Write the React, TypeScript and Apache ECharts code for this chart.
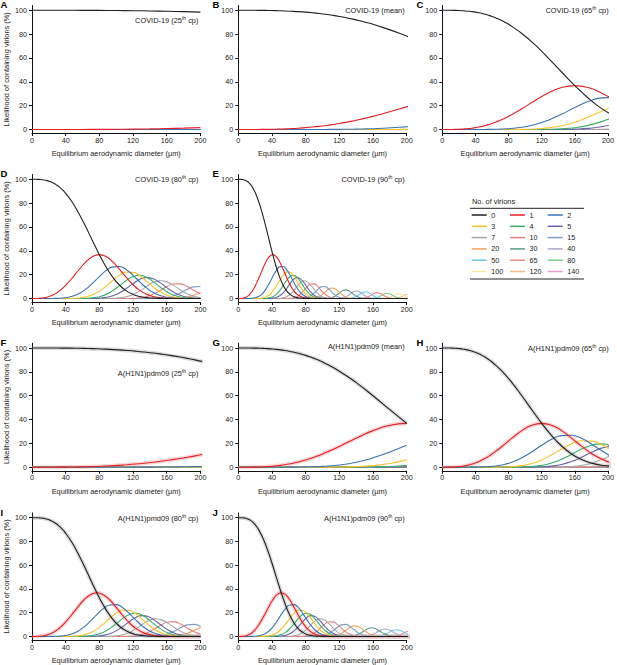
import React, { useEffect, useRef } from "react";
import * as echarts from "echarts";

const FONT = '"Liberation Sans", Arial, Helvetica, sans-serif';

// Number of virions per droplet (legend order)
const VIRIONS = [0, 1, 2, 3, 4, 5, 7, 10, 15, 20, 30, 40, 50, 65, 80, 100, 120, 140];
const COLORS = [
  "#231f20", "#e41f25", "#3b73b3", "#f7c12c", "#3aaf68", "#6764a6",
  "#a7a7a7", "#e2817d", "#7d9ec9", "#f5a263", "#5e9a8c", "#b2a8c8",
  "#6ac7ef", "#f08a8a", "#7ccf8d", "#fce59d", "#efbb8a", "#e89fd6",
];

// Likelihood (%) of each virion count, read along a shared sampling of the curves.
// Each list starts at sample index `from`; samples outside it read as 0.
const L0 = { from: 0, v: [100, 100, 99.99, 99.96, 99.9, 99.8, 99.66, 99.47, 99.2, 98.87, 98.45, 97.94, 97.34, 96.63, 95.8, 94.86, 93.8, 92.61, 91.29, 89.84, 88.25, 80.57, 70.96, 59.93, 48.24, 36.79, 26.42, 17.76, 11.11, 6.43, 3.42, 1.66, 0.73, 0.29, 0.1, 0.03] };
const L1 = { from: 0, v: [0, 0, 0.01, 0.04, 0.1, 0.19, 0.34, 0.53, 0.79, 1.13, 1.54, 2.04, 2.63, 3.32, 4.11, 5, 6, 7.11, 8.32, 9.63, 11.03, 17.4, 24.34, 30.68, 35.17, 36.79, 35.17, 30.69, 24.41, 17.64, 11.54, 6.82, 3.61, 1.71, 0.72, 0.27, 0.09, 0.03] };
const L2 = { from: 9, v: [0.01, 0.01, 0.02, 0.04, 0.06, 0.09, 0.13, 0.19, 0.27, 0.38, 0.52, 0.69, 1.88, 4.17, 7.85, 12.82, 18.39, 23.41, 26.52, 26.81, 24.2, 19.47, 13.97, 8.87, 4.99, 2.47, 1.07, 0.41, 0.13, 0.04] };
const L3 = { from: 18, v: [0.01, 0.02, 0.03, 0.14, 0.48, 1.34, 3.12, 6.13, 10.39, 15.28, 19.63, 22.14, 21.9, 19.07, 14.53, 9.7, 5.65, 2.86, 1.26, 0.48, 0.16, 0.04, 0.01] };
const L4 = { from: 21, v: [0.01, 0.04, 0.17, 0.57, 1.53, 3.46, 6.6, 10.78, 15.19, 18.48, 19.53, 17.85, 14.14, 9.69, 5.72, 2.91, 1.28, 0.48, 0.15, 0.04, 0.01] };
const L5 = { from: 23, v: [0.02, 0.08, 0.31, 0.92, 2.28, 4.74, 8.34, 12.47, 16, 17.54, 16.49, 13.29, 9.16, 5.39, 2.73, 1.16, 0.42, 0.13, 0.03, 0.01] };
const L7 = { from: 25, v: [0.01, 0.04, 0.16, 0.54, 1.49, 3.38, 6.39, 10.08, 13.35, 14.89, 13.96, 11, 7.37, 4.07, 1.9, 0.74, 0.24, 0.06, 0.01] };
const L10 = { from: 29, v: [0.04, 0.18, 0.61, 1.66, 3.68, 6.67, 9.93, 12.16, 12.27, 10.19, 6.97, 3.92, 1.8, 0.68, 0.21, 0.05, 0.01] };
const L15 = { from: 33, v: [0.07, 0.28, 0.9, 2.3, 4.66, 7.54, 9.76, 10.12, 8.4, 5.59, 2.97, 1.26, 0.43, 0.11, 0.02] };
const L20 = { from: 36, v: [0.08, 0.34, 1.08, 2.65, 5.06, 7.56, 8.86, 8.13, 5.83, 3.27, 1.44, 0.49, 0.13, 0.03] };
const L30 = { from: 40, v: [0.04, 0.2, 0.71, 1.94, 3.98, 6.18, 7.26, 6.45, 4.32, 2.19, 0.84, 0.24, 0.05] };
const L40 = { from: 44, v: [0.1, 0.41, 1.3, 2.99, 5.05, 6.25, 5.7, 3.82, 1.88, 0.68, 0.18, 0.03] };
const L50 = { from: 47, v: [0.11, 0.49, 1.47, 3.21, 5.01, 5.61, 4.5, 2.59, 1.08, 0.32, 0.07] };
const L65 = { from: 50, v: [0.04, 0.2, 0.77, 2.05, 3.8, 4.9, 4.41, 2.77, 1.21, 0.36, 0.08] };
const L80 = { from: 53, v: [0.03, 0.17, 0.7, 1.91, 3.54, 4.45, 3.79, 2.19, 0.86, 0.23, 0.04] };
const L100 = { from: 57, v: [0.07, 0.35, 1.18, 2.62, 3.85, 3.71, 2.36, 0.99] };
const L120 = { from: 60, v: [0.06, 0.31, 1.1, 2.47, 3.55] };
const L140 = { from: 63, v: [0.09, 0.46] };
const CURVES = [L0, L1, L2, L3, L4, L5, L7, L10, L15, L20, L30, L40, L50, L65, L80, L100, L120, L140];

// Diameters (µm) of the samples in each panel
const xA = [0, 20, 40, 60, 80, 100, 120, 140, 160, 180, 200];
const xB = [0, 8, 16, 24, 32, 40, 48, 56, 64, 72, 80, 88, 96, 104, 112, 120, 128, 136, 144, 152, 160, 192, 224];
const xC = [0, 4, 8, 12, 16, 20, 24, 28, 32, 36, 40, 44, 48, 52, 56, 60, 64, 68, 72, 76, 80, 96, 112, 128, 144, 160, 176, 192, 208];
const xD = [0, 2, 4, 6, 8, 10, 12, 14, 16, 18, 20, 22, 24, 26, 28, 30, 32, 34, 36, 38, 40, 48, 56, 64, 72, 80, 88, 96, 104, 112, 120, 128, 136, 144, 152, 160, 168, 176, 184, 192, 200];
const xE = [0, 1.03, 2.05, 3.08, 4.1, 5.13, 6.15, 7.18, 8.2, 9.23, 10.25, 11.28, 12.3, 13.33, 14.35, 15.38, 16.4, 17.43, 18.45, 19.48, 20.5, 24.6, 28.7, 32.8, 36.9, 41, 45.1, 49.2, 53.3, 57.4, 61.5, 65.6, 69.7, 73.8, 77.9, 82, 86.1, 90.2, 94.3, 98.4, 102.5, 106.6, 110.7, 114.8, 118.9, 123, 127.1, 131.2, 135.3, 139.4, 143.5, 147.6, 151.7, 155.8, 159.9, 164, 168.1, 172.2, 176.3, 180.4, 184.5, 188.6, 192.7, 196.8, 200.9];
const xF = [0, 10.25, 20.5, 30.75, 41, 51.25, 61.5, 71.75, 82, 92.25, 102.5, 112.75, 123, 133.25, 143.5, 153.75, 164, 174.25, 184.5, 194.75, 205];
const xG = [0, 5, 10, 15, 20, 25, 30, 35, 40, 45, 50, 55, 60, 65, 70, 75, 80, 85, 90, 95, 100, 120, 140, 160, 180, 200];
const xH = [0, 3, 6, 9, 12, 15, 18, 21, 24, 27, 30, 33, 36, 39, 42, 45, 48, 51, 54, 57, 60, 72, 84, 96, 108, 120, 132, 144, 156, 168, 180, 192, 204];
const xI = [0, 1.93, 3.85, 5.78, 7.7, 9.63, 11.55, 13.48, 15.4, 17.33, 19.25, 21.18, 23.1, 25.03, 26.95, 28.88, 30.8, 32.73, 34.65, 36.58, 38.5, 46.2, 53.9, 61.6, 69.3, 77, 84.7, 92.4, 100.1, 107.8, 115.5, 123.2, 130.9, 138.6, 146.3, 154, 161.7, 169.4, 177.1, 184.8, 192.5, 200.2];
const xJ = [0, 1.28, 2.55, 3.83, 5.1, 6.38, 7.65, 8.93, 10.2, 11.48, 12.75, 14.03, 15.3, 16.58, 17.85, 19.13, 20.4, 21.68, 22.95, 24.23, 25.5, 30.6, 35.7, 40.8, 45.9, 51, 56.1, 61.2, 66.3, 71.4, 76.5, 81.6, 86.7, 91.8, 96.9, 102, 107.1, 112.2, 117.3, 122.4, 127.5, 132.6, 137.7, 142.8, 147.9, 153, 158.1, 163.2, 168.3, 173.4, 178.5, 183.6, 188.7, 193.8, 198.9, 204];

const Y_TICKS = [0, 20, 40, 60, 80, 100];
const X_NAME = "Equilibrium aerodynamic diameter (\u00b5m)";
const Y_NAME = "Likelihood of containing virions (%)";

const PANELS = [
  { id: "A", row: 0, col: 0, x: xA, label: ["COVID-19 (25", "th", " cp)"], dy: 10, band: false },
  { id: "B", row: 0, col: 1, x: xB, label: ["COVID-19 (mean)"], dy: 0, band: false },
  { id: "C", row: 0, col: 2, x: xC, label: ["COVID-19 (65", "th", " cp)"], dy: 0, band: false },
  { id: "D", row: 1, col: 0, x: xD, label: ["COVID-19 (80", "th", " cp)"], dy: 0, band: false },
  { id: "E", row: 1, col: 1, x: xE, label: ["COVID-19 (90", "th", " cp)"], dy: 0, band: false },
  { id: "F", row: 2, col: 0, x: xF, label: ["A(H1N1)pdm09 (25", "th", " cp)"], dy: 25, band: true },
  { id: "G", row: 2, col: 1, x: xG, label: ["A(H1N1)pdm09 (mean)"], dy: -1.5, band: true },
  { id: "H", row: 2, col: 2, x: xH, label: ["A(H1N1)pdm09 (65", "th", " cp)"], dy: 0, band: true },
  { id: "I", row: 3, col: 0, x: xI, label: ["A(H1N1)pmd09 (80", "th", " cp)"], dy: 0.5, band: true },
  { id: "J", row: 3, col: 1, x: xJ, label: ["A(H1N1)pdm09 (90", "th", " cp)"], dy: 0.5, band: true },
];

const COL_X = [32, 238.3, 442.3];
const ROW_Y100 = [10.3, 179.3, 348, 517.7];
const LETTER_X = [0.5, 212.5, 416.5];
const PLOT_W = 168.4;
const UNIT = 1.192;
const Y_MIN = -3;
const Y_MAX = 104;
const BAND_COLORS = ["#8c8c8c", "#f07a7a"];

function buildOption() {
  const grid: any[] = [];
  const xAxis: any[] = [];
  const yAxis: any[] = [];
  const series: any[] = [];
  const graphic: any[] = [];

  PANELS.forEach((p, i) => {
    const left = COL_X[p.col];
    const y100 = ROW_Y100[p.row];
    const top = y100 - (Y_MAX - 100) * UNIT;
    grid.push({ left, top, width: PLOT_W, height: (Y_MAX - Y_MIN) * UNIT, containLabel: false });
    xAxis.push({
      gridIndex: i,
      type: "value",
      min: 0,
      max: 200,
      interval: 40,
      axisLine: { show: true, onZero: false, lineStyle: { color: "#111", width: 1 } },
      axisTick: { show: true, length: 3, lineStyle: { color: "#111", width: 1 } },
      axisLabel: { fontSize: 7.2, color: "#222", margin: 3.5, fontFamily: FONT },
      splitLine: { show: false },
      name: X_NAME,
      nameLocation: "middle",
      nameGap: 17,
      nameTextStyle: { fontSize: 7.4, color: "#222", fontFamily: FONT },
    });
    yAxis.push({
      gridIndex: i,
      type: "value",
      min: Y_MIN,
      max: Y_MAX,
      axisLine: { show: true, onZero: false, lineStyle: { color: "#111", width: 1 } },
      axisTick: { show: true, length: 3, customValues: Y_TICKS, lineStyle: { color: "#111", width: 1 } },
      axisLabel: { customValues: Y_TICKS, fontSize: 7.2, color: "#222", margin: 5, fontFamily: FONT },
      splitLine: { show: false },
      name: p.col === 0 ? Y_NAME : "",
      nameLocation: "middle",
      nameGap: 22,
      nameTextStyle: { fontSize: 7.4, color: "#222", fontFamily: FONT },
    });

    const curveData = CURVES.map((c) =>
      p.x.map((xv, j) => {
        const k = j - c.from;
        return [xv, k >= 0 && k < c.v.length ? c.v[k] : 0];
      })
    );

    if (p.band) {
      [0, 1].forEach((ci) => {
        series.push({
          type: "line",
          name: `band-${p.id}-${VIRIONS[ci]}`,
          xAxisIndex: i,
          yAxisIndex: i,
          data: curveData[ci],
          smooth: true,
          showSymbol: false,
          silent: true,
          lineStyle: { width: 4, color: BAND_COLORS[ci], opacity: 0.3 },
          z: 1,
        });
      });
    }
    for (let ci = CURVES.length - 1; ci >= 0; ci--) {
      series.push({
        type: "line",
        name: `${p.id}-${VIRIONS[ci]}`,
        xAxisIndex: i,
        yAxisIndex: i,
        data: curveData[ci],
        smooth: true,
        showSymbol: false,
        silent: true,
        lineStyle: { width: 1.1, color: COLORS[ci] },
        z: 2,
      });
    }

    const text =
      p.label.length === 3
        ? `{a|${p.label[0]}}{s|${p.label[1]}}{a|${p.label[2]}}`
        : `{a|${p.label[0]}}`;
    graphic.push({
      type: "text",
      x: left + PLOT_W - 2,
      y: y100 + p.dy,
      silent: true,
      style: {
        text,
        align: "right",
        verticalAlign: "middle",
        rich: {
          a: { fontSize: 7.4, fontFamily: FONT, fill: "#222", lineHeight: 10 },
          s: { fontSize: 5, fontFamily: FONT, fill: "#222", verticalAlign: "top" },
        },
      },
    });
    graphic.push({
      type: "text",
      x: LETTER_X[p.col],
      y: y100 - 5.5,
      silent: true,
      style: {
        text: p.id,
        fontSize: 9.5,
        fontWeight: "bold",
        fontFamily: FONT,
        fill: "#000",
        align: "left",
        verticalAlign: "middle",
      },
    });
  });

  // Legend box
  const LX = [471.7, 510, 547.7];
  const LY0 = 215;
  const LDY = 11.3;
  graphic.push({
    type: "text",
    x: 472,
    y: 201.7,
    silent: true,
    style: { text: "No. of virions", fontSize: 7.4, fontFamily: FONT, fill: "#222", align: "left", verticalAlign: "middle" },
  });
  graphic.push({ type: "line", silent: true, shape: { x1: 470, y1: 208.3, x2: 584, y2: 208.3 }, style: { stroke: "#222", lineWidth: 1 } });
  graphic.push({ type: "line", silent: true, shape: { x1: 470, y1: 279, x2: 584, y2: 279 }, style: { stroke: "#222", lineWidth: 1 } });
  VIRIONS.forEach((v, idx) => {
    const r = Math.floor(idx / 3);
    const c = idx % 3;
    const y = LY0 + r * LDY;
    graphic.push({
      type: "line",
      silent: true,
      shape: { x1: LX[c], y1: y, x2: LX[c] + 15, y2: y },
      style: { stroke: COLORS[idx], lineWidth: 1.5 },
    });
    graphic.push({
      type: "text",
      x: LX[c] + 19.5,
      y,
      silent: true,
      style: { text: String(v), fontSize: 7.2, fontFamily: FONT, fill: "#222", align: "left", verticalAlign: "middle" },
    });
  });

  return {
    animation: false,
    textStyle: { fontFamily: FONT },
    grid,
    xAxis,
    yAxis,
    series,
    graphic,
  };
}

export default function App() {
  const ref = useRef<HTMLDivElement>(null);
  useEffect(() => {
    document.body.style.margin = "0";
    if (!ref.current) return;
    const chart = echarts.init(ref.current, null, { renderer: "svg" });
    chart.setOption(buildOption());
    return () => chart.dispose();
  }, []);
  return <div ref={ref} style={{ width: 617, height: 665, background: "#fff" }} />;
}
